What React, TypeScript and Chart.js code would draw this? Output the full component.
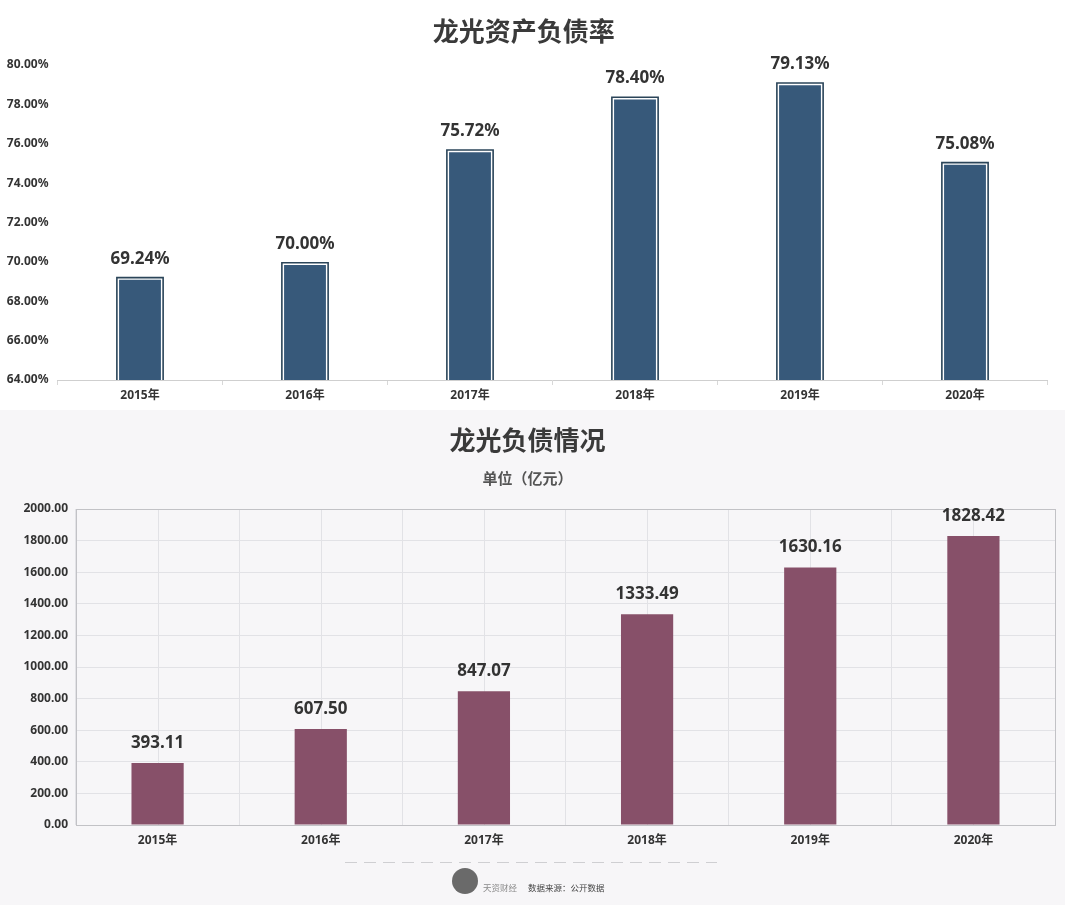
import React, { useEffect, useRef } from "react";
import { Chart, registerables } from "chart.js";

Chart.register(...registerables);

const years = ["2015年", "2016年", "2017年", "2018年", "2019年", "2020年"];
const debtRatio = [69.24, 70.0, 75.72, 78.4, 79.13, 75.08];
const debtAmount = [393.11, 607.5, 847.07, 1333.49, 1630.16, 1828.42];

const FONT = '"Noto Sans", "Noto Sans CJK SC", sans-serif';
const CJK = '"Noto Sans CJK SC", "Noto Sans", sans-serif';

const labelPlugin = (fmt: (v: number) => string, gap: number) => ({
  id: "valueLabels",
  afterDatasetsDraw(chart: any) {
    const ctx = chart.ctx;
    const meta = chart.getDatasetMeta(0);
    const data = chart.data.datasets[0].data as number[];
    ctx.save();
    ctx.font = `bold 17px ${FONT}`;
    ctx.fillStyle = "#333333";
    ctx.textAlign = "center";
    ctx.textBaseline = "middle";
    meta.data.forEach((el: any, i: number) => {
      ctx.fillText(fmt(data[i]), el.x, el.y - gap);
    });
    ctx.restore();
  },
});

const outlinePlugin = {
  id: "barOutline",
  afterDatasetsDraw(chart: any) {
    const ctx = chart.ctx;
    const meta = chart.getDatasetMeta(0);
    const bottom = chart.chartArea.bottom;
    ctx.save();
    ctx.strokeStyle = "#2b4559";
    ctx.lineWidth = 1.6;
    meta.data.forEach((el: any) => {
      const l = el.x - el.width / 2 + 0.8;
      const r = el.x + el.width / 2 - 0.8;
      const t = el.y + 0.8;
      const b = Math.min(el.base, bottom);
      ctx.beginPath();
      ctx.moveTo(l, b);
      ctx.lineTo(l, t);
      ctx.lineTo(r, t);
      ctx.lineTo(r, b);
      ctx.stroke();
    });
    ctx.restore();
  },
};

const centerGridPlugin = {
  id: "centerGrid",
  beforeDatasetsDraw(chart: any) {
    const ctx = chart.ctx;
    const xs = chart.scales.x;
    const area = chart.chartArea;
    ctx.save();
    ctx.strokeStyle = "#e2e2e6";
    ctx.lineWidth = 1;
    years.forEach((_, i) => {
      const px = Math.round(xs.getPixelForValue(i)) + 0.5;
      ctx.beginPath();
      ctx.moveTo(px, area.top);
      ctx.lineTo(px, area.bottom);
      ctx.stroke();
    });
    ctx.restore();
  },
};

const framePlugin = {
  id: "frame",
  afterDatasetsDraw(chart: any) {
    const ctx = chart.ctx;
    const a = chart.chartArea;
    ctx.save();
    ctx.strokeStyle = "#c2c2c6";
    ctx.lineWidth = 1;
    ctx.strokeRect(Math.round(a.left) + 0.5, Math.round(a.top) + 0.5, Math.round(a.right - a.left), Math.round(a.bottom - a.top));
    ctx.restore();
  },
};

export default function App() {
  const topRef = useRef<HTMLCanvasElement>(null);
  const botRef = useRef<HTMLCanvasElement>(null);

  useEffect(() => {
    document.body.style.margin = "0";
    const top = new Chart(topRef.current!, {
      type: "bar",
      data: {
        labels: years,
        datasets: [
          {
            data: debtRatio,
            backgroundColor: "#37597a",
            borderColor: "#ffffff",
            borderWidth: { top: 3, left: 3, right: 3, bottom: 0 } as any,
            barPercentage: 0.29,
            categoryPercentage: 1,
          },
        ],
      },
      options: {
        responsive: false,
        animation: false,
        layout: { padding: { left: 0, right: 17.5, top: 0, bottom: 0 } },
        plugins: {
          legend: { display: false },
          tooltip: { enabled: false },
          title: {
            display: true,
            text: "龙光资产负债率",
            color: "#3a3a3a",
            font: { family: CJK, size: 26, weight: "bold" },
            padding: { top: 16, bottom: 17.8 },
          },
        },
        scales: {
          x: {
            grid: { display: true, drawOnChartArea: false, drawTicks: true, tickLength: 5, color: "#d8d8d8", offset: true },
            border: { display: true, color: "#cfcfcf" },
            ticks: { color: "#333", padding: 3, font: { family: FONT, size: 12, weight: "bold" } },
            afterFit: (s: any) => { s.height = 30; },
          },
          y: {
            min: 64,
            max: 80,
            grid: { display: false, drawTicks: false },
            border: { display: false },
            ticks: {
              stepSize: 2,
              padding: 9,
              color: "#333",
              font: { family: FONT, size: 12, weight: "bold" },
              callback: (v: any) => Number(v).toFixed(2) + "%",
            },
            afterFit: (s: any) => { s.width = 57.5; },
          },
        },
      },
      plugins: [outlinePlugin, labelPlugin((v) => v.toFixed(2) + "%", 18)],
    });

    const bot = new Chart(botRef.current!, {
      type: "bar",
      data: {
        labels: years,
        datasets: [
          {
            data: debtAmount,
            backgroundColor: "#875069",
            borderWidth: 0,
            barPercentage: 0.32,
            categoryPercentage: 1,
          },
        ],
      },
      options: {
        responsive: false,
        animation: false,
        layout: { padding: { left: 0, right: 10, top: 0, bottom: 0 } },
        plugins: {
          legend: { display: false },
          tooltip: { enabled: false },
          title: {
            display: true,
            text: "龙光负债情况",
            color: "#3a3a3a",
            font: { family: CJK, size: 26, weight: "bold" },
            padding: { top: 15, bottom: 12.8 },
          },
          subtitle: {
            display: true,
            text: "单位（亿元）",
            color: "#555",
            font: { family: CJK, size: 15, weight: "bold" },
            padding: { top: 0, bottom: 22 },
          },
        },
        scales: {
          x: {
            grid: { display: true, drawTicks: false, color: "#e2e2e6", offset: true },
            border: { display: true, color: "#c2c2c6" },
            ticks: { color: "#333", padding: 8, font: { family: FONT, size: 12, weight: "bold" } },
            afterFit: (s: any) => { s.height = 80; },
          },
          y: {
            min: 0,
            max: 2000,
            grid: { display: true, drawTicks: false, color: "#e2e2e6" },
            border: { display: true, color: "#c2c2c6" },
            ticks: {
              stepSize: 200,
              padding: 8,
              color: "#333",
              font: { family: FONT, size: 12, weight: "bold" },
              callback: (v: any) => Number(v).toFixed(2),
            },
            afterFit: (s: any) => { s.width = 76; },
          },
        },
      },
      plugins: [centerGridPlugin, framePlugin, labelPlugin((v) => v.toFixed(2), 20)],
    });

    return () => {
      top.destroy();
      bot.destroy();
    };
  }, []);

  return (
    <div style={{ width: 1065, height: 905, position: "relative", overflow: "hidden", background: "#ffffff" }}>
      <div style={{ position: "absolute", left: 0, top: 0, width: 1065, height: 410, background: "#ffffff" }}>
        <canvas ref={topRef} width={1065} height={410} style={{ display: "block" }} />
      </div>
      <div style={{ position: "absolute", left: 0, top: 410, width: 1065, height: 495, background: "#f7f6f8" }}>
        <canvas ref={botRef} width={1065} height={495} style={{ display: "block", position: "absolute", left: 0, top: 0 }} />
        <div
          style={{
            position: "absolute",
            left: 345,
            top: 452,
            width: 372,
            height: 1,
            background: "repeating-linear-gradient(to right, #cfcfd2 0 12px, transparent 12px 19px)",
          }}
        />
        <div
          style={{
            position: "absolute",
            left: 452,
            top: 458,
            width: 26,
            height: 26,
            borderRadius: 13,
            background: "#6a6a6a",
          }}
        />
        <div
          style={{
            position: "absolute",
            left: 483,
            top: 472,
            fontFamily: CJK,
            fontSize: 8.5,
            color: "#8a8a8a",
            lineHeight: "11px",
            whiteSpace: "nowrap",
          }}
        >
          天资财经
        </div>
        <div
          style={{
            position: "absolute",
            left: 528,
            top: 472,
            fontFamily: CJK,
            fontSize: 8.5,
            color: "#444",
            lineHeight: "11px",
            whiteSpace: "nowrap",
          }}
        >
          数据来源：公开数据
        </div>
      </div>
    </div>
  );
}
